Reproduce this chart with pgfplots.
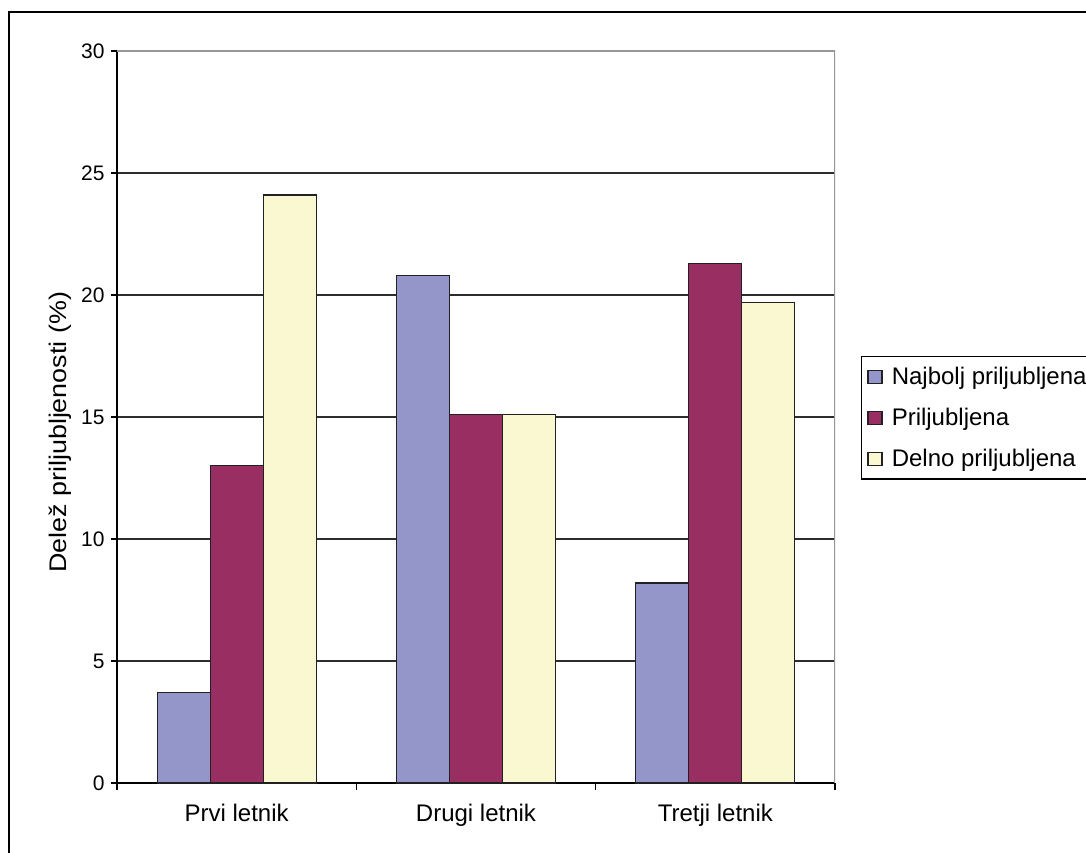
\documentclass[border=0pt]{standalone}
\usepackage{fontspec}
\setmainfont{Liberation Sans}
\usepackage{pgfplots}
\pgfplotsset{compat=1.18}
\definecolor{cblue}{RGB}{148,149,200}
\definecolor{cmaroon}{RGB}{153,46,98}
\definecolor{cyellow}{RGB}{250,248,208}
\definecolor{gridc}{RGB}{45,45,45}
\definecolor{barc}{RGB}{35,32,35}
\definecolor{borderc}{RGB}{150,150,150}
\pgfplotsset{sqlegend/.style={legend image code/.code={\draw[##1] (0pt,-6.5pt) rectangle (14pt,6.5pt);}}}
\begin{document}
\begin{tikzpicture}
\useasboundingbox (0,0) rectangle (1086pt,852pt);
\clip (0,0) rectangle (1086pt,852pt);
\draw[line width=2pt] (9pt,-20pt) -- (9pt,840pt) -- (1200pt,840pt);
\begin{axis}[
  at={(117pt,69pt)}, anchor=south west,
  scale only axis, width=718pt, height=732pt,
  xmin=-0.5, xmax=2.5, ymin=0, ymax=30,
  axis x line*=bottom, axis y line*=left,
  axis line style={black, line width=1.5pt},
  tick align=outside,
  ytick={0,5,...,30},
  ymajorgrids, grid style={gridc, line width=1.3pt},
  major tick length=6pt, minor tick length=7pt,
  xtick={0,1,2},
  xticklabels={Prvi letnik, Drugi letnik, Tretji letnik},
  minor xtick={-0.5,0.5,1.5,2.5},
  major x tick style={draw=none},
  minor x tick style={black, line width=1.3pt},
  major y tick style={black, line width=1.3pt},
  /pgf/number format/assume math mode=true,
  y tick label style={font=\fontsize{21}{25}\selectfont, xshift=-3pt},
  x tick label style={font=\fontsize{24}{28}\selectfont, yshift=-12pt},
  ylabel={Delež priljubljenosti (\%)},
  ylabel style={font=\fontsize{24}{28}\selectfont, at={(axis description cs:-0.0794,0.479)}, anchor=center, xscale=1.12},
  legend style={at={(axis description cs:1.0358,0.5837)}, anchor=north west,
    draw=black, line width=1.5pt, font=\fontsize{24}{28}\selectfont,
    row sep=18pt, column sep=7pt, inner xsep=6pt, inner ysep=9pt},
  legend cell align=left,
]
\addplot[ybar, bar width=53pt, bar shift=-53pt, fill=cblue, draw=barc, line width=1.3pt, sqlegend]
  coordinates {(0,3.7) (1,20.8) (2,8.2)};
\addplot[ybar, bar width=53pt, bar shift=0pt, fill=cmaroon, draw=barc, line width=1.3pt, sqlegend]
  coordinates {(0,13.0) (1,15.1) (2,21.3)};
\addplot[ybar, bar width=53pt, bar shift=53pt, fill=cyellow, draw=barc, line width=1.3pt, sqlegend]
  coordinates {(0,24.1) (1,15.1) (2,19.7)};
\legend{Najbolj priljubljena, Priljubljena, Delno priljubljena}
\draw[borderc, line width=1.5pt] (rel axis cs:0,1) -- (rel axis cs:1,1) -- (rel axis cs:1,0);
\end{axis}
\end{tikzpicture}
\end{document}
